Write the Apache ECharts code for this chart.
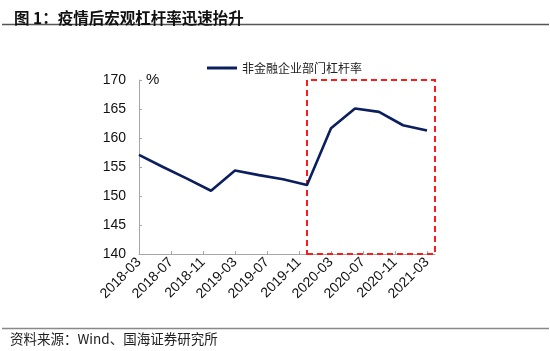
<!DOCTYPE html>
<html>
<head>
<meta charset="utf-8">
<script src="https://cdn.jsdelivr.net/npm/echarts@6/dist/echarts.min.js"></script>
<style>
html,body{margin:0;padding:0;background:#fff;}
#chart{width:550px;height:351px;}
</style>
</head>
<body>
<div id="chart"></div>
<script>
// Monthly axis categories (labels shown every 4 months)
var months = ['2018-03','2018-04','2018-05','2018-06','2018-07','2018-08','2018-09','2018-10','2018-11','2018-12',
  '2019-01','2019-02','2019-03','2019-04','2019-05','2019-06','2019-07','2019-08','2019-09','2019-10','2019-11','2019-12',
  '2020-01','2020-02','2020-03','2020-04','2020-05','2020-06','2020-07','2020-08','2020-09','2020-10','2020-11','2020-12',
  '2021-01','2021-02','2021-03','2021-04'];
// Quarterly observations
var quarters = ['2018-03','2018-06','2018-09','2018-12','2019-03','2019-06','2019-09','2019-12',
  '2020-03','2020-06','2020-09','2020-12','2021-03'];
var leverage = [157.1, 155.0, 153.0, 150.9, 154.4, 153.6, 152.9, 151.9, 161.7, 165.1, 164.5, 162.2, 161.3];
var seriesName = '非金融企业部门杠杆率';
var yTicks = [140, 145, 150, 155, 160, 165, 170];
var boxRange = {from: '2019-12', to: '2021-04', low: 140, high: 170};

var seriesData = quarters.map(function (q, i) { return [q, leverage[i]]; });

var chart = echarts.init(document.getElementById('chart'), null, {renderer: 'canvas'});
chart.setOption({
  animation: false,
  backgroundColor: '#fff',
  textStyle: {fontFamily: 'Liberation Sans, Arial, Noto Sans CJK SC, sans-serif'},
  title: {
    text: '图 1：疫情后宏观杠杆率迅速抬升',
    left: 9, top: 5,
    textStyle: {fontSize: 15.5, fontWeight: 'bold', color: '#111', fontFamily: 'Noto Sans CJK SC, sans-serif'}
  },
  graphic: [
    {type: 'line', shape: {x1: 2, y1: 24.5, x2: 549, y2: 24.5}, style: {stroke: '#555', lineWidth: 1.5}, silent: true},
    {type: 'line', shape: {x1: 2, y1: 328.5, x2: 549, y2: 328.5}, style: {stroke: '#888', lineWidth: 1.5}, silent: true},
    {type: 'text', left: 10, top: 332, silent: true,
      style: {text: '资料来源：Wind、国海证券研究所', fontSize: 13.5, fill: '#222', fontFamily: 'Noto Sans CJK SC, sans-serif'}}
  ],
  legend: {
    left: 202, top: 57,
    itemWidth: 30, itemHeight: 3,
    itemGap: 10,
    textStyle: {fontSize: 12, color: '#222', fontFamily: 'Noto Sans CJK SC, sans-serif'},
    data: [{name: seriesName, icon: 'rect'}]
  },
  grid: {left: 139, right: 115, top: 80, bottom: 97, containLabel: false},
  xAxis: {
    type: 'category',
    data: months,
    boundaryGap: false,
    axisLine: {lineStyle: {color: '#a6a6a6', width: 1}},
    axisTick: {inside: true, length: 3, interval: 3, lineStyle: {color: '#a6a6a6'}},
    axisLabel: {interval: 3, rotate: 45, fontSize: 14, color: '#111', margin: 6},
    splitLine: {show: false}
  },
  yAxis: {
    type: 'value',
    min: 140, max: 170, interval: 5,
    name: '%',
    nameLocation: 'end',
    nameGap: 0,
    nameTextStyle: {align: 'left', verticalAlign: 'middle', padding: [0, 0, 0, 7], fontSize: 15, color: '#111'},
    axisLine: {show: true, lineStyle: {color: '#a6a6a6', width: 1}},
    axisTick: {show: true, inside: true, length: 3, lineStyle: {color: '#a6a6a6'}},
    axisLabel: {fontSize: 14, color: '#111', margin: 13,
      formatter: function (v) { return yTicks.indexOf(v) >= 0 ? String(v) : ''; }},
    splitLine: {show: false}
  },
  series: [{
    name: seriesName,
    type: 'line',
    data: seriesData,
    symbol: 'none',
    connectNulls: true,
    lineStyle: {color: '#0b1f5e', width: 2.6},
    itemStyle: {color: '#0b1f5e'},
    markArea: {
      silent: true,
      itemStyle: {color: 'rgba(0,0,0,0)', borderColor: '#ff1a1a', borderWidth: 2, borderType: [6, 4]},
      data: [[{xAxis: boxRange.from, yAxis: boxRange.low}, {xAxis: boxRange.to, yAxis: boxRange.high}]]
    }
  }]
});
</script>
</body>
</html>
